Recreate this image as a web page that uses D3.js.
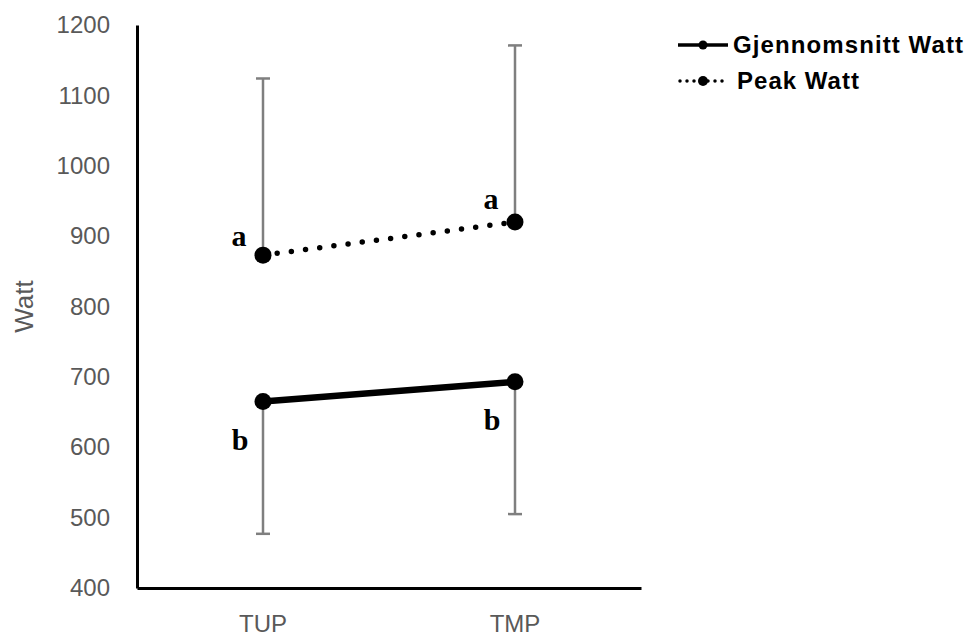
<!DOCTYPE html>
<html>
<head>
<meta charset="utf-8">
<script src="https://cdn.jsdelivr.net/npm/d3@7"></script>
<style>
  html, body { margin: 0; padding: 0; background: #fff; }
  svg { display: block; }
</style>
</head>
<body>
<svg id="chart" width="968" height="637"></svg>
<script>
// ---- Data ----
const categories = ["TUP", "TMP"];
const meanWatt = [665, 693];      // Gjennomsnitt Watt
const meanSD = [188, 188];        // error bar (down)
const peakWatt = [873, 920];      // Peak Watt
const peakSD = [251, 251];        // error bar (up)
const meanLetters = ["b", "b"];
const peakLetters = ["a", "a"];
const yTicks = [400, 500, 600, 700, 800, 900, 1000, 1100, 1200];
const seriesNames = ["Gjennomsnitt Watt", "Peak Watt"];
const yTitle = "Watt";

(function () {
// ---- Layout ----
const svg = d3.select("#chart");
const pLeft = 137, pRight = 641, pTop = 25, pBottom = 588;

const x = d3.scaleBand().domain(categories).range([pLeft, pRight]).padding(0);
const cx = c => x(c) + x.bandwidth() / 2;
const y = d3.scaleLinear().domain([400, 1200]).range([pBottom, pTop]);

const tickFont = "'Liberation Sans', Arial, sans-serif";
const grey = "#595959";

// Y axis
const yAxis = svg.append("g").attr("transform", `translate(${pLeft},0)`)
  .call(d3.axisLeft(y).tickValues(yTicks).tickSize(0).tickPadding(27).tickFormat(d3.format("d")));
yAxis.select(".domain").attr("stroke", "#000").attr("stroke-width", 3);
yAxis.selectAll("text").attr("fill", grey).attr("font-size", 24).attr("font-family", tickFont);

// X axis
const xAxis = svg.append("g").attr("transform", `translate(0,${pBottom})`)
  .call(d3.axisBottom(x).tickSize(0).tickPadding(27));
xAxis.select(".domain").attr("stroke", "#000").attr("stroke-width", 3);
xAxis.selectAll("text").attr("fill", grey).attr("font-size", 24).attr("font-family", tickFont);

// Y title
svg.append("text")
  .attr("transform", `translate(33,${(pTop + pBottom) / 2}) rotate(-90)`)
  .attr("text-anchor", "middle")
  .attr("fill", grey).attr("font-size", 26).attr("font-family", tickFont)
  .text(yTitle);

// Error bars
const errColor = "#7f7f7f";
const capW = 7;
const errs = [];
categories.forEach((c, i) => {
  errs.push({ c, v0: peakWatt[i], v1: peakWatt[i] + peakSD[i] });
  errs.push({ c, v0: meanWatt[i], v1: meanWatt[i] - meanSD[i] });
});
const eg = svg.append("g");
errs.forEach(e => {
  eg.append("line").attr("x1", cx(e.c)).attr("x2", cx(e.c))
    .attr("y1", y(e.v0)).attr("y2", y(e.v1))
    .attr("stroke", errColor).attr("stroke-width", 2.5);
  eg.append("line").attr("x1", cx(e.c) - capW).attr("x2", cx(e.c) + capW)
    .attr("y1", y(e.v1)).attr("y2", y(e.v1))
    .attr("stroke", errColor).attr("stroke-width", 2.5);
});

// Lines
const line = d3.line().x(d => cx(d.c)).y(d => y(d.v));
const meanData = categories.map((c, i) => ({ c, v: meanWatt[i] }));
const peakData = categories.map((c, i) => ({ c, v: peakWatt[i] }));

svg.append("path").datum(meanData).attr("d", line)
  .attr("fill", "none").attr("stroke", "#000").attr("stroke-width", 6.5);
svg.append("path").datum(peakData).attr("d", line)
  .attr("fill", "none").attr("stroke", "#000").attr("stroke-width", 5.5)
  .attr("stroke-linecap", "round").attr("stroke-dasharray", "0 14.3");

// Markers
[meanData, peakData].forEach(ds => {
  svg.append("g").selectAll("circle").data(ds).join("circle")
    .attr("cx", d => cx(d.c)).attr("cy", d => y(d.v)).attr("r", 8.5).attr("fill", "#000");
});

// Significance letters
const letterFont = "'Liberation Serif', 'Times New Roman', serif";
categories.forEach((c, i) => {
  svg.append("text").attr("x", cx(c) - 24).attr("y", y(peakWatt[i]) - (i === 0 ? 9 : 13))
    .attr("text-anchor", "middle").attr("font-family", letterFont)
    .attr("font-weight", "bold").attr("font-size", 30).text(peakLetters[i]);
  svg.append("text").attr("x", cx(c) - 23).attr("y", y(meanWatt[i]) + 48)
    .attr("text-anchor", "middle").attr("font-family", letterFont)
    .attr("font-weight", "bold").attr("font-size", 30).text(meanLetters[i]);
});

// Legend
const lg = svg.append("g");
const lx0 = 678, lx1 = 728;
lg.append("line").attr("x1", lx0).attr("x2", lx1).attr("y1", 45).attr("y2", 45)
  .attr("stroke", "#000").attr("stroke-width", 3.5);
lg.append("circle").attr("cx", (lx0 + lx1) / 2).attr("cy", 45).attr("r", 4.5).attr("fill", "#000");
lg.append("text").attr("x", 733).attr("y", 53).attr("font-family", tickFont)
  .attr("font-weight", "bold").attr("font-size", 24).attr("fill", "#000")
  .attr("textLength", 230).attr("lengthAdjust", "spacing").text(seriesNames[0]);
lg.append("line").attr("x1", lx0 + 2).attr("x2", lx1).attr("y1", 81).attr("y2", 81)
  .attr("stroke", "#000").attr("stroke-width", 3.5)
  .attr("stroke-linecap", "round").attr("stroke-dasharray", "0 7");
lg.append("circle").attr("cx", (lx0 + lx1) / 2).attr("cy", 81).attr("r", 5).attr("fill", "#000");
lg.append("text").attr("x", 737).attr("y", 89).attr("font-family", tickFont)
  .attr("font-weight", "bold").attr("font-size", 24).attr("fill", "#000")
  .attr("textLength", 122).attr("lengthAdjust", "spacing").text(seriesNames[1]);
})();
</script>
</body>
</html>
